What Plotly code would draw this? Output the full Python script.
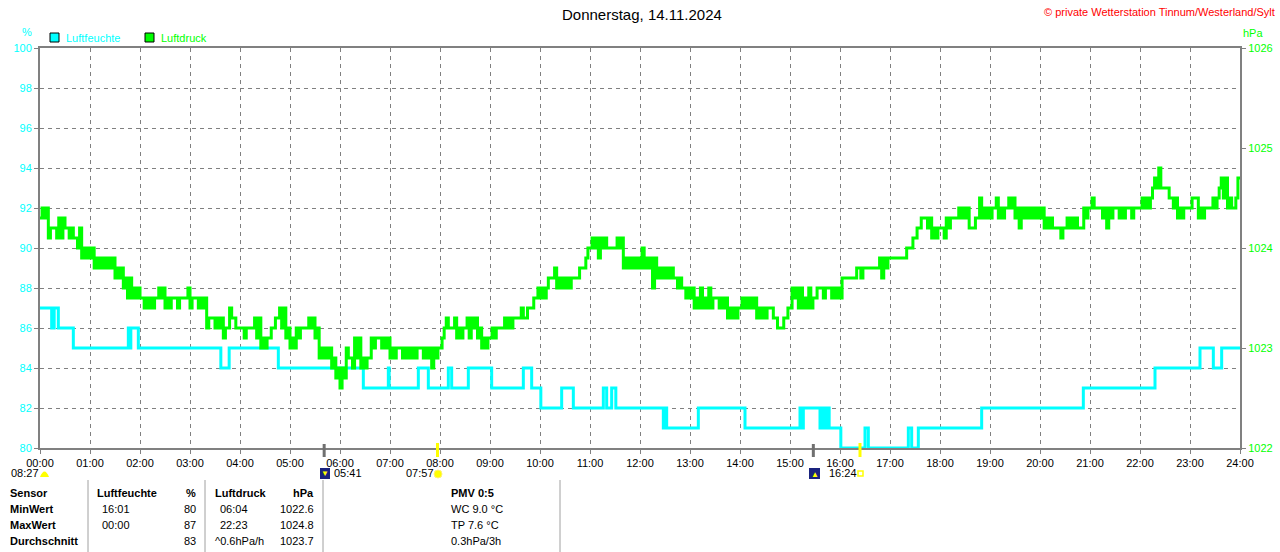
import plotly.graph_objects as go

# Tagesdiagramm Luftfeuchte / Luftdruck, Donnerstag 14.11.2024

title_text = "Donnerstag, 14.11.2024"
copyright_text = "© private Wetterstation Tinnum/Westerland/Sylt"

hour_labels = ["%02d:00" % h for h in range(25)]
hum_ticks = [80, 82, 84, 86, 88, 90, 92, 94, 96, 98, 100]
press_ticks = [1022, 1023, 1024, 1025, 1026]

# Luftfeuchte (%) - Stufenwerte, Zeitpunkt der Aenderung
hum_times = [
    "00:00", "00:14", "00:17", "00:22", "00:40", "01:46", "01:48", "01:49", "01:58",
    "03:37", "03:47", "04:46", "06:28", "06:58", "06:59", "07:34", "07:46", "08:10",
    "08:14", "08:34", "09:02", "09:40", "09:50", "10:01", "10:26", "10:40", "11:16",
    "11:20", "11:26", "11:31", "12:28", "12:30", "12:32", "13:10", "14:06", "15:12",
    "15:14", "15:16", "15:36", "15:39", "15:41", "15:44", "15:47", "16:01", "16:30",
    "16:34", "17:22", "17:26", "17:34", "18:50", "20:52", "22:18", "23:12", "23:28",
    "23:38", "24:00",
]
hum_values = [
    87, 86, 87, 86, 85, 86, 85, 86, 85,
    84, 85, 84, 83, 84, 83, 84, 83, 84,
    83, 84, 83, 84, 83, 82, 83, 82, 83,
    82, 83, 82, 81, 82, 81, 82, 81, 82,
    81, 82, 81, 82, 81, 82, 81, 80, 81,
    80, 81, 80, 81, 82, 83, 84, 85, 84,
    85, 85,
]

# Luftdruck (hPa) - je 5 Minuten: niedrigster und hoechster Wert
press_lo = [
    1024.3, 1024.3, 1024.1, 1024.2, 1024.1, 1024.1, 1024.2, 1024.1, 1024.1, 1024.0, 1023.9, 1023.9,
    1023.9, 1023.8, 1023.8, 1023.8, 1023.8, 1023.8, 1023.7, 1023.7, 1023.6, 1023.5, 1023.5, 1023.5,
    1023.5, 1023.4, 1023.4, 1023.4, 1023.5, 1023.5, 1023.4, 1023.4, 1023.5, 1023.4, 1023.5, 1023.5,
    1023.4, 1023.5, 1023.4, 1023.4, 1023.2, 1023.3, 1023.2, 1023.2, 1023.1, 1023.2, 1023.3, 1023.2,
    1023.2, 1023.1, 1023.2, 1023.2, 1023.1, 1023.0, 1023.0, 1023.1, 1023.2, 1023.3, 1023.2, 1023.1,
    1023.0, 1023.0, 1023.1, 1023.2, 1023.2, 1023.2, 1023.1, 1022.9, 1022.9, 1022.9, 1022.8, 1022.7,
    1022.6, 1022.7, 1022.9, 1022.8, 1022.9, 1022.8, 1022.8, 1022.9, 1023.0, 1023.1, 1023.0, 1023.0,
    1022.9, 1022.9, 1023.0, 1022.9, 1022.9, 1022.9, 1022.9, 1023.0, 1022.9, 1022.9, 1022.8, 1022.9,
    1023.0, 1023.2, 1023.2, 1023.2, 1023.1, 1023.1, 1023.2, 1023.1, 1023.2, 1023.1, 1023.0, 1023.0,
    1023.1, 1023.1, 1023.2, 1023.2, 1023.2, 1023.2, 1023.3, 1023.3, 1023.3, 1023.4, 1023.4, 1023.5,
    1023.5, 1023.5, 1023.7, 1023.7, 1023.6, 1023.6, 1023.6, 1023.6, 1023.7, 1023.7, 1023.8, 1023.9,
    1024.0, 1024.0, 1023.9, 1024.0, 1024.0, 1024.0, 1024.0, 1024.0, 1023.8, 1023.8, 1023.8, 1023.8,
    1023.8, 1023.8, 1023.8, 1023.6, 1023.7, 1023.7, 1023.7, 1023.7, 1023.7, 1023.6, 1023.6, 1023.5,
    1023.5, 1023.4, 1023.4, 1023.4, 1023.4, 1023.4, 1023.5, 1023.4, 1023.4, 1023.3, 1023.3, 1023.3,
    1023.4, 1023.4, 1023.4, 1023.4, 1023.3, 1023.3, 1023.3, 1023.4, 1023.3, 1023.2, 1023.2, 1023.3,
    1023.4, 1023.5, 1023.4, 1023.4, 1023.4, 1023.4, 1023.5, 1023.6, 1023.5, 1023.6, 1023.5, 1023.5,
    1023.5, 1023.7, 1023.7, 1023.7, 1023.8, 1023.7, 1023.8, 1023.8, 1023.8, 1023.8, 1023.7, 1023.8,
    1023.9, 1023.9, 1023.9, 1023.9, 1024.0, 1024.0, 1024.1, 1024.2, 1024.3, 1024.2, 1024.1, 1024.1,
    1024.2, 1024.1, 1024.2, 1024.3, 1024.3, 1024.3, 1024.3, 1024.2, 1024.2, 1024.3, 1024.3, 1024.3,
    1024.3, 1024.4, 1024.3, 1024.3, 1024.4, 1024.4, 1024.3, 1024.2, 1024.3, 1024.3, 1024.3, 1024.3,
    1024.3, 1024.2, 1024.2, 1024.2, 1024.2, 1024.1, 1024.2, 1024.2, 1024.2, 1024.2, 1024.2, 1024.3,
    1024.4, 1024.4, 1024.4, 1024.3, 1024.2, 1024.3, 1024.4, 1024.3, 1024.3, 1024.4, 1024.3, 1024.4,
    1024.4, 1024.4, 1024.4, 1024.6, 1024.6, 1024.6, 1024.6, 1024.5, 1024.4, 1024.3, 1024.3, 1024.4,
    1024.4, 1024.5, 1024.3, 1024.3, 1024.4, 1024.4, 1024.4, 1024.6, 1024.5, 1024.4, 1024.4, 1024.5,
]
press_hi = [
    1024.4, 1024.4, 1024.2, 1024.2, 1024.3, 1024.3, 1024.2, 1024.2, 1024.1, 1024.2, 1024.0, 1024.0,
    1024.0, 1023.9, 1023.9, 1023.9, 1023.9, 1023.9, 1023.8, 1023.8, 1023.7, 1023.7, 1023.6, 1023.6,
    1023.5, 1023.5, 1023.5, 1023.5, 1023.6, 1023.6, 1023.5, 1023.5, 1023.5, 1023.5, 1023.5, 1023.6,
    1023.5, 1023.5, 1023.5, 1023.5, 1023.3, 1023.3, 1023.3, 1023.3, 1023.2, 1023.4, 1023.3, 1023.2,
    1023.2, 1023.2, 1023.2, 1023.3, 1023.3, 1023.1, 1023.1, 1023.2, 1023.3, 1023.4, 1023.4, 1023.2,
    1023.1, 1023.2, 1023.2, 1023.2, 1023.3, 1023.3, 1023.2, 1023.0, 1023.0, 1023.0, 1022.9, 1022.8,
    1022.8, 1023.0, 1022.9, 1023.1, 1023.1, 1022.9, 1022.9, 1023.1, 1023.1, 1023.1, 1023.1, 1023.1,
    1023.0, 1023.0, 1023.0, 1023.0, 1023.0, 1023.0, 1023.0, 1023.0, 1023.0, 1023.0, 1023.0, 1023.0,
    1023.1, 1023.3, 1023.2, 1023.3, 1023.2, 1023.2, 1023.3, 1023.3, 1023.3, 1023.2, 1023.1, 1023.1,
    1023.2, 1023.2, 1023.2, 1023.3, 1023.3, 1023.3, 1023.3, 1023.4, 1023.3, 1023.4, 1023.5, 1023.6,
    1023.6, 1023.6, 1023.7, 1023.8, 1023.7, 1023.7, 1023.7, 1023.7, 1023.7, 1023.8, 1023.8, 1024.0,
    1024.1, 1024.1, 1024.1, 1024.1, 1024.0, 1024.0, 1024.1, 1024.1, 1023.9, 1023.9, 1023.9, 1023.9,
    1024.0, 1023.9, 1023.9, 1023.9, 1023.8, 1023.8, 1023.8, 1023.8, 1023.7, 1023.7, 1023.6, 1023.6,
    1023.6, 1023.5, 1023.6, 1023.5, 1023.6, 1023.5, 1023.5, 1023.5, 1023.5, 1023.4, 1023.4, 1023.4,
    1023.5, 1023.5, 1023.5, 1023.5, 1023.4, 1023.4, 1023.4, 1023.4, 1023.3, 1023.2, 1023.3, 1023.4,
    1023.6, 1023.6, 1023.6, 1023.5, 1023.6, 1023.5, 1023.6, 1023.6, 1023.6, 1023.6, 1023.6, 1023.6,
    1023.7, 1023.7, 1023.7, 1023.7, 1023.8, 1023.8, 1023.8, 1023.8, 1023.8, 1023.9, 1023.9, 1023.9,
    1023.9, 1023.9, 1023.9, 1023.9, 1024.0, 1024.1, 1024.2, 1024.3, 1024.3, 1024.3, 1024.2, 1024.2,
    1024.2, 1024.3, 1024.3, 1024.3, 1024.4, 1024.4, 1024.4, 1024.2, 1024.3, 1024.5, 1024.4, 1024.4,
    1024.4, 1024.5, 1024.4, 1024.4, 1024.5, 1024.5, 1024.4, 1024.4, 1024.4, 1024.4, 1024.4, 1024.4,
    1024.4, 1024.3, 1024.3, 1024.2, 1024.2, 1024.2, 1024.3, 1024.3, 1024.3, 1024.2, 1024.4, 1024.4,
    1024.5, 1024.4, 1024.4, 1024.4, 1024.4, 1024.4, 1024.4, 1024.4, 1024.4, 1024.4, 1024.4, 1024.4,
    1024.5, 1024.5, 1024.5, 1024.7, 1024.8, 1024.6, 1024.6, 1024.5, 1024.5, 1024.4, 1024.4, 1024.4,
    1024.5, 1024.5, 1024.4, 1024.4, 1024.4, 1024.5, 1024.5, 1024.7, 1024.7, 1024.5, 1024.4, 1024.7,
]

# Sonne / Mond unter der Zeitachse
astro_times = ["08:27", "05:41", "07:57", "16:24"]

# Tabelle unten
table_rows = ["Sensor", "MinWert", "MaxWert", "Durchschnitt"]
hum_col_times = ["", "16:01", "00:00", ""]
hum_col_values = ["%", "80", "87", "83"]
press_col_times = ["Luftdruck", "06:04", "22:23", "^0.6hPa/h"]
press_col_values = ["hPa", "1022.6", "1024.8", "1023.7"]
extra_col = ["PMV 0:5", "WC 9.0 °C", "TP 7.6 °C", "0.3hPa/3h"]

CYAN = "#00FFFF"
GREEN = "#00FF00"
GRAY = "#808080"
FONT = "Liberation Sans"

# the page shows the figure 5px narrower than asked, so ask for 1285
L, R, T, B = 40, 40, 48, 104
W, H = 1285, 552
PLOT_W = 1200


def to_hours(s):
    hh, mm = s.split(":")
    return int(hh) + int(mm) / 60


def px_x(px):
    return (px - L) / PLOT_W


def px_y(py):
    return (H - B - py) / (H - T - B)


# Druckkurve: pro 5-Minuten-Intervall tief -> hoch
press_t, press_v = [], []
for i, (lo, hi) in enumerate(zip(press_lo, press_hi)):
    t0 = i * 5 / 60
    press_t += [t0, t0 + 2.5 / 60]
    press_v += [lo, hi]
press_t.append(24)
press_v.append(press_hi[-1])

fig = go.Figure()
fig.add_trace(go.Scatter(
    x=[to_hours(t) for t in hum_times], y=hum_values, mode="lines",
    line=dict(color=CYAN, width=3, shape="hv"), name="Luftfeuchte",
))
fig.add_trace(go.Scatter(
    x=press_t, y=press_v, mode="lines", yaxis="y2",
    line=dict(color=GREEN, width=3, shape="hv"), name="Luftdruck",
))

annotations = []
shapes = []


def text(px, py, s, color="black", size=11, anchor="left", bold=False):
    if bold:
        s = "<b>%s</b>" % s
    annotations.append(dict(
        x=px_x(px), y=px_y(py), xref="paper", yref="paper", text=s,
        showarrow=False, xanchor=anchor, yanchor="middle",
        font=dict(family=FONT, size=size, color=color),
    ))


def rect(x0, y0, x1, y1, fill, line_color=None, width=1):
    shapes.append(dict(
        type="rect", xref="paper", yref="paper",
        x0=px_x(x0), x1=px_x(x1), y0=px_y(y0), y1=px_y(y1),
        fillcolor=fill, line=dict(color=line_color or fill, width=width if line_color else 0),
    ))


def vline(px, y0, y1, color, width):
    shapes.append(dict(
        type="line", xref="paper", yref="paper",
        x0=px_x(px), x1=px_x(px), y0=px_y(y0), y1=px_y(y1),
        line=dict(color=color, width=width),
    ))


# Kopfzeile
text(642, 15, title_text, size=15, anchor="center")
text(1277, 12, copyright_text, color="#FF0000", size=11, anchor="right")
text(27, 32, "%", color=CYAN, anchor="center")
text(1241, 33, "hPa", color=GREEN)

# Legende
rect(50, 33, 59, 42, CYAN, "black")
text(64, 38, "Luftfeuchte", color=CYAN)
rect(145, 33, 154, 42, GREEN, "black")
text(159, 38, "Luftdruck", color=GREEN)

# Sonne / Mond Markierungen
vline(40 + to_hours("05:41") * 50, 444, 457, "#707070", 3)
vline(40 + to_hours("07:57") * 50, 443, 457, "#FFFF00", 3)
vline(40 + to_hours("15:28") * 50, 444, 457, "#707070", 3)
vline(40 + to_hours(astro_times[3]) * 50, 443, 457, "#FFFF00", 3)

text(9, 473, astro_times[0])
shapes.append(dict(type="path", xref="paper", yref="paper", fillcolor="#FFFF00",
                   line=dict(color="#FFFF00", width=0),
                   path="M %f %f Q %f %f %f %f Z" % (px_x(40), px_y(477), px_x(44.5), px_y(466),
                                                      px_x(49), px_y(477))))
rect(320, 468, 330, 479, "#1A237E")
text(325, 473, "▼", color="#FFFF00", size=8, anchor="center")
text(332, 473, astro_times[1])
text(404, 473, astro_times[2])
shapes.append(dict(type="circle", xref="paper", yref="paper",
                   x0=px_x(434), x1=px_x(442), y0=px_y(470), y1=px_y(478),
                   fillcolor="#FFFF00", line=dict(color="#FFF176", width=1)))
rect(809, 468, 820, 479, "#1A237E")
text(815, 474, "▲", color="#FFFF00", size=8, anchor="center")
text(827, 473, astro_times[3])
rect(858, 471, 863, 476, "white", "#FFFF00", 1.5)

# Tabelle
for px in (88, 205, 323, 560):
    vline(px, 480, 552, "#A0A0A0", 1)

row_y = [493, 509, 525, 541]
for i, y in enumerate(row_y):
    head = i == 0
    text(8, y, table_rows[i], bold=True)
    if head:
        text(95, y, "Luftfeuchte", bold=True)
    else:
        text(100, y, hum_col_times[i])
    text(198, y, hum_col_values[i], anchor="right", bold=head)
    if i in (1, 2):
        text(218, y, press_col_times[i])
    else:
        text(213, y, press_col_times[i], bold=head)
    text(316, y, press_col_values[i], anchor="right", bold=head)
    text(449, y, extra_col[i], bold=head)

fig.update_layout(
    width=W, height=H, autosize=False,
    margin=dict(l=L, r=R, t=T, b=B),
    paper_bgcolor="white", plot_bgcolor="white",
    showlegend=False,
    font=dict(family=FONT, size=11, color="black"),
    annotations=annotations, shapes=shapes,
    xaxis=dict(
        range=[0, 24], tickvals=list(range(25)), ticktext=hour_labels,
        showgrid=True, gridcolor=GRAY, griddash="4px,4px", gridwidth=1,
        showline=True, linecolor=GRAY, linewidth=2, mirror=True,
        ticks="outside", ticklen=4, tickcolor=GRAY, zeroline=False,
        tickfont=dict(family=FONT, size=11, color="black"),
    ),
    yaxis=dict(
        range=[80, 100], tickvals=hum_ticks,
        showgrid=True, gridcolor=GRAY, griddash="4px,4px", gridwidth=1,
        showline=True, linecolor=GRAY, linewidth=2,
        ticks="outside", ticklen=4, tickcolor=GRAY, zeroline=False,
        tickfont=dict(family=FONT, size=11, color=CYAN),
    ),
    yaxis2=dict(
        range=[1022, 1026], tickvals=press_ticks, overlaying="y", side="right",
        showgrid=False, showline=True, linecolor=GRAY, linewidth=2,
        ticks="outside", ticklen=4, tickcolor=GRAY, zeroline=False,
        tickfont=dict(family=FONT, size=11, color=GREEN),
    ),
)

fig.write_html(
    "out.html",
    config={"displayModeBar": False, "responsive": False},
    post_script="document.body.style.margin='0';document.body.style.overflow='hidden';",
)
